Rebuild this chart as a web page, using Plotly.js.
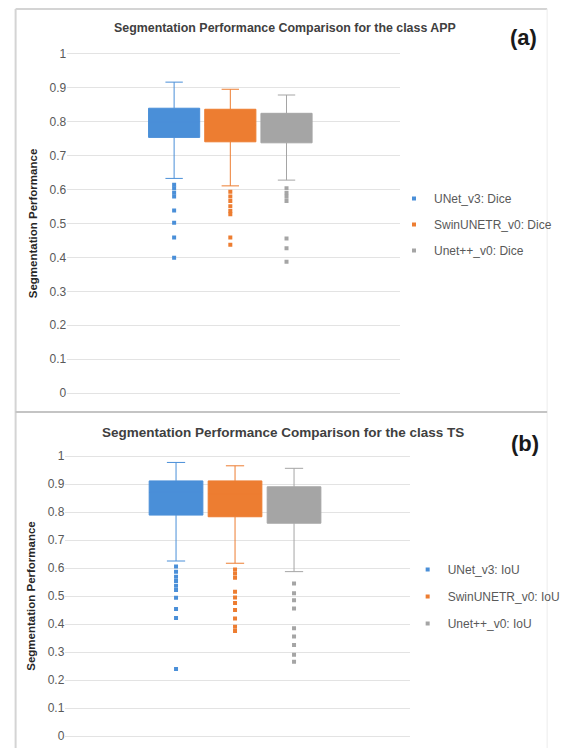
<!DOCTYPE html>
<html>
<head>
<meta charset="utf-8">
<script src="https://cdn.plot.ly/plotly-3.0.1.min.js"></script>
<style>html,body{margin:0;padding:0;background:#fff;}#chart{width:566px;height:748px;}</style>
</head>
<body>
<div id="chart"></div>
<script>
// ---- data ----
const diceSeries = ['UNet_v3: Dice', 'SwinUNETR_v0: Dice', 'Unet++_v0: Dice'];
const iouSeries  = ['UNet_v3: IoU', 'SwinUNETR_v0: IoU', 'Unet++_v0: IoU'];
const seriesColors = ['#4a8fd8', '#ed7d31', '#a5a5a5'];

const diceLowerFence = [0.633, 0.611, 0.628];
const diceQ1         = [0.754, 0.741, 0.738];
const diceMedian     = [0.800, 0.790, 0.785];
const diceQ3         = [0.840, 0.837, 0.825];
const diceUpperFence = [0.917, 0.896, 0.879];
const diceOutliers = [
  [0.614, 0.604, 0.591, 0.580, 0.538, 0.502, 0.459, 0.399],
  [0.594, 0.580, 0.566, 0.551, 0.537, 0.527, 0.459, 0.437],
  [0.604, 0.590, 0.579, 0.566, 0.456, 0.427, 0.387]
];

const iouLowerFence = [0.625, 0.617, 0.587];
const iouQ1         = [0.789, 0.783, 0.760];
const iouMedian     = [0.870, 0.865, 0.845];
const iouQ3         = [0.911, 0.911, 0.890];
const iouUpperFence = [0.977, 0.965, 0.956];
const iouOutliers = [
  [0.605, 0.587, 0.569, 0.554, 0.537, 0.521, 0.494, 0.454, 0.421, 0.239],
  [0.595, 0.580, 0.565, 0.515, 0.495, 0.475, 0.450, 0.420, 0.390, 0.375],
  [0.545, 0.510, 0.485, 0.455, 0.385, 0.355, 0.325, 0.290, 0.265]
];

const panelTitles = ['Segmentation Performance Comparison for the class APP',
                     'Segmentation Performance Comparison for the class TS'];
const panelLabels = ['(a)', '(b)'];
const yAxisTitle = 'Segmentation Performance';

// ---- build traces ----
const traces = [];
function addPanel(names, lf, q1, med, q3, uf, outl, xa, ya, legendId, boxWidth) {
  names.forEach((name, i) => {
    traces.push({
      type: 'box', name: name, x: [i],
      q1: [q1[i]], median: [med[i]], q3: [q3[i]],
      lowerfence: [lf[i]], upperfence: [uf[i]],
      width: boxWidth, whiskerwidth: 0.34,
      boxpoints: false,
      fillcolor: seriesColors[i],
      line: {color: seriesColors[i], width: 1},
      xaxis: xa, yaxis: ya, showlegend: false, hoverinfo: 'skip'
    });
    traces.push({
      type: 'scatter', mode: 'markers', name: name,
      x: outl[i].map(() => i), y: outl[i],
      marker: {symbol: 'square', size: 4, color: seriesColors[i]},
      xaxis: xa, yaxis: ya, legend: legendId, legendgroup: legendId + i,
      showlegend: true, hoverinfo: 'skip'
    });
  });
}
addPanel(diceSeries, diceLowerFence, diceQ1, diceMedian, diceQ3, diceUpperFence, diceOutliers, 'x', 'y', 'legend', 0.91);
addPanel(iouSeries, iouLowerFence, iouQ1, iouMedian, iouQ3, iouUpperFence, iouOutliers, 'x2', 'y2', 'legend2', 0.91);

const W = 566, H = 748;
const px = v => v / W;
const py = v => 1 - v / H;

const FONT = 'Liberation Sans, Arial, sans-serif';
const tickFont = {family: FONT, size: 12, color: '#595959'};
const yCommon = {
  tick0: 0, dtick: 0.1, showgrid: true, gridcolor: '#e3e3e3', gridwidth: 1,
  zeroline: false, showline: false, ticks: '', tickfont: tickFont,
  title: {text: yAxisTitle, font: {family: FONT, size: 11.5, color: '#262626', weight: 'bold'}, standoff: 9}
};
const xCommon = {visible: false, showgrid: false, zeroline: false, fixedrange: true};
const legendCommon = {
  font: {family: FONT, size: 12, color: '#595959'},
  bgcolor: 'rgba(0,0,0,0)', xanchor: 'left', yanchor: 'top',
  itemwidth: 30
};

const layout = {
  width: W, height: H,
  margin: {l: 0, r: 0, t: 0, b: 0},
  paper_bgcolor: '#ffffff', plot_bgcolor: '#ffffff',
  xaxis: Object.assign({}, xCommon, {domain: [px(69), px(410)], range: [-1.901, 4.017], anchor: 'y'}),
  yaxis: Object.assign({}, yCommon, {domain: [py(396.4), py(50.6)], range: [-0.01, 1.01], anchor: 'x'}),
  xaxis2: Object.assign({}, xCommon, {domain: [px(67), px(420)], range: [-1.876, 3.959], anchor: 'y2'}),
  yaxis2: Object.assign({}, yCommon, {domain: [py(738.8), py(453.2)], range: [-0.01, 1.01], anchor: 'x2'}),
  legend: Object.assign({}, legendCommon, {x: px(404), y: py(184), tracegroupgap: 7}),
  legend2: Object.assign({}, legendCommon, {x: px(418), y: py(555), tracegroupgap: 8}),
  annotations: [
    {text: panelTitles[0], xref: 'paper', yref: 'paper', x: px(292), y: py(28), xanchor: 'center', yanchor: 'middle', showarrow: false,
     font: {family: FONT, size: 12.4, color: '#404040', weight: 'bold'}},
    {text: panelTitles[1], xref: 'paper', yref: 'paper', x: px(290), y: py(432), xanchor: 'center', yanchor: 'middle', showarrow: false,
     font: {family: FONT, size: 13.5, color: '#404040', weight: 'bold'}},
    {text: panelLabels[0], xref: 'paper', yref: 'paper', x: px(537), y: py(38), xanchor: 'center', yanchor: 'middle', showarrow: false,
     font: {family: FONT, size: 22, color: '#1a1a1a', weight: 'bold'}},
    {text: panelLabels[1], xref: 'paper', yref: 'paper', x: px(538), y: py(443), xanchor: 'center', yanchor: 'middle', showarrow: false,
     font: {family: FONT, size: 22, color: '#1a1a1a', weight: 'bold'}}
  ],
  shapes: [
    {type: 'line', xref: 'paper', yref: 'paper', x0: px(16), x1: px(561), y0: py(9), y1: py(9), line: {color: '#d4d4d4', width: 2}},
    {type: 'line', xref: 'paper', yref: 'paper', x0: px(16), x1: px(16), y0: py(9), y1: 0, line: {color: '#d4d4d4', width: 2}},
    {type: 'line', xref: 'paper', yref: 'paper', x0: px(561), x1: px(561), y0: py(9), y1: 0, line: {color: '#ececec', width: 1}},
    {type: 'line', xref: 'paper', yref: 'paper', x0: px(16), x1: px(561), y0: py(412), y1: py(412), line: {color: '#c4c4c4', width: 2}}
  ],
  showlegend: true
};

Plotly.newPlot('chart', traces, layout, {staticPlot: true, displayModeBar: false});
</script>
</body>
</html>
